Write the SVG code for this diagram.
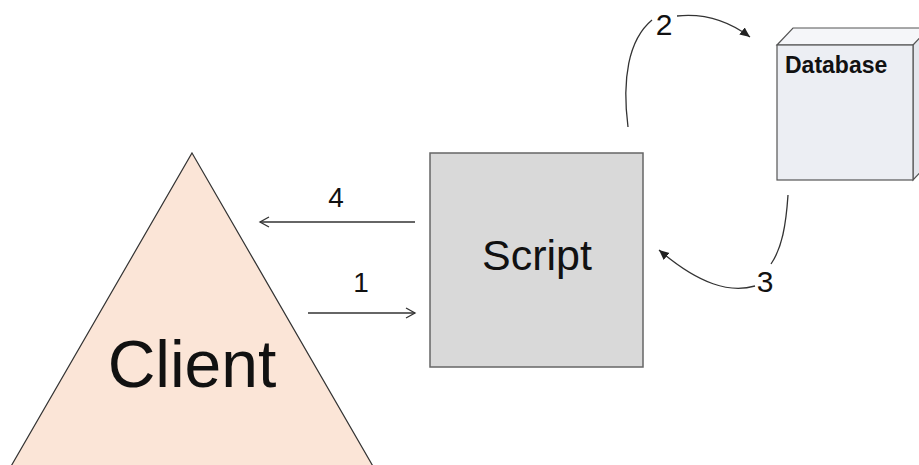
<svg xmlns="http://www.w3.org/2000/svg" width="919" height="465" viewBox="0 0 919 465">
<style>
.lbl{font-family:"Liberation Sans",Arial,sans-serif;fill:#111;}
.con{fill:none;stroke:#333;stroke-width:1.3;}
</style>
<defs>
<marker id="open" markerWidth="12" markerHeight="12" refX="10" refY="6" orient="auto" markerUnits="userSpaceOnUse">
<path d="M1,1 L10,6 L1,11" fill="none" stroke="#333" stroke-width="1.3"/>
</marker>
<marker id="solid" markerWidth="12" markerHeight="10" refX="10" refY="5" orient="auto" markerUnits="userSpaceOnUse">
<path d="M0,0.5 L10,5 L0,9.5 Z" fill="#222"/>
</marker>
</defs>
<rect width="919" height="465" fill="#fff"/>
<g id="client">
<polygon points="192,153 374,468 10,468" fill="#fbe5d7" stroke="#333" stroke-width="1.2"/>
<text class="lbl" x="192" y="387" font-size="66" text-anchor="middle">Client</text>
</g>
<g id="script">
<rect x="430" y="153" width="213" height="214" fill="#d9d9d9" stroke="#666" stroke-width="1.5"/>
<text class="lbl" x="537" y="270" font-size="43" text-anchor="middle">Script</text>
</g>
<g id="database">
<polygon points="777,45 793,28 935,28 919,45" fill="#f5f6f9" stroke="#555" stroke-width="1.2"/>
<polygon points="913,45 929,28 929,163 913,180" fill="#e4e6ec" stroke="#555" stroke-width="1.2"/>
<rect x="777" y="45" width="136" height="135" fill="#eceef3" stroke="#555" stroke-width="1.2"/>
<text class="lbl" x="785" y="73" font-size="23" font-weight="bold">Database</text>
</g>
<g id="connectors">
<line class="con" x1="415" y1="222" x2="260" y2="222" marker-end="url(#open)"/>
<line class="con" x1="308" y1="313" x2="415" y2="313" marker-end="url(#open)"/>
<path class="con" d="M628,127 C622,80 628,40 652,20"/>
<path class="con" d="M677,16 C705,13 730,22 750,37" marker-end="url(#solid)"/>
<path class="con" d="M788,195 C786,225 782,248 771,264"/>
<path class="con" d="M755,286 C730,293 700,285 659,250" marker-end="url(#solid)"/>
<text class="lbl" x="336" y="207" font-size="28" text-anchor="middle">4</text>
<text class="lbl" x="361" y="292" font-size="28" text-anchor="middle">1</text>
<text class="lbl" x="664" y="35" font-size="30" text-anchor="middle">2</text>
<text class="lbl" x="765" y="292" font-size="30" text-anchor="middle">3</text>
</g>
</svg>
